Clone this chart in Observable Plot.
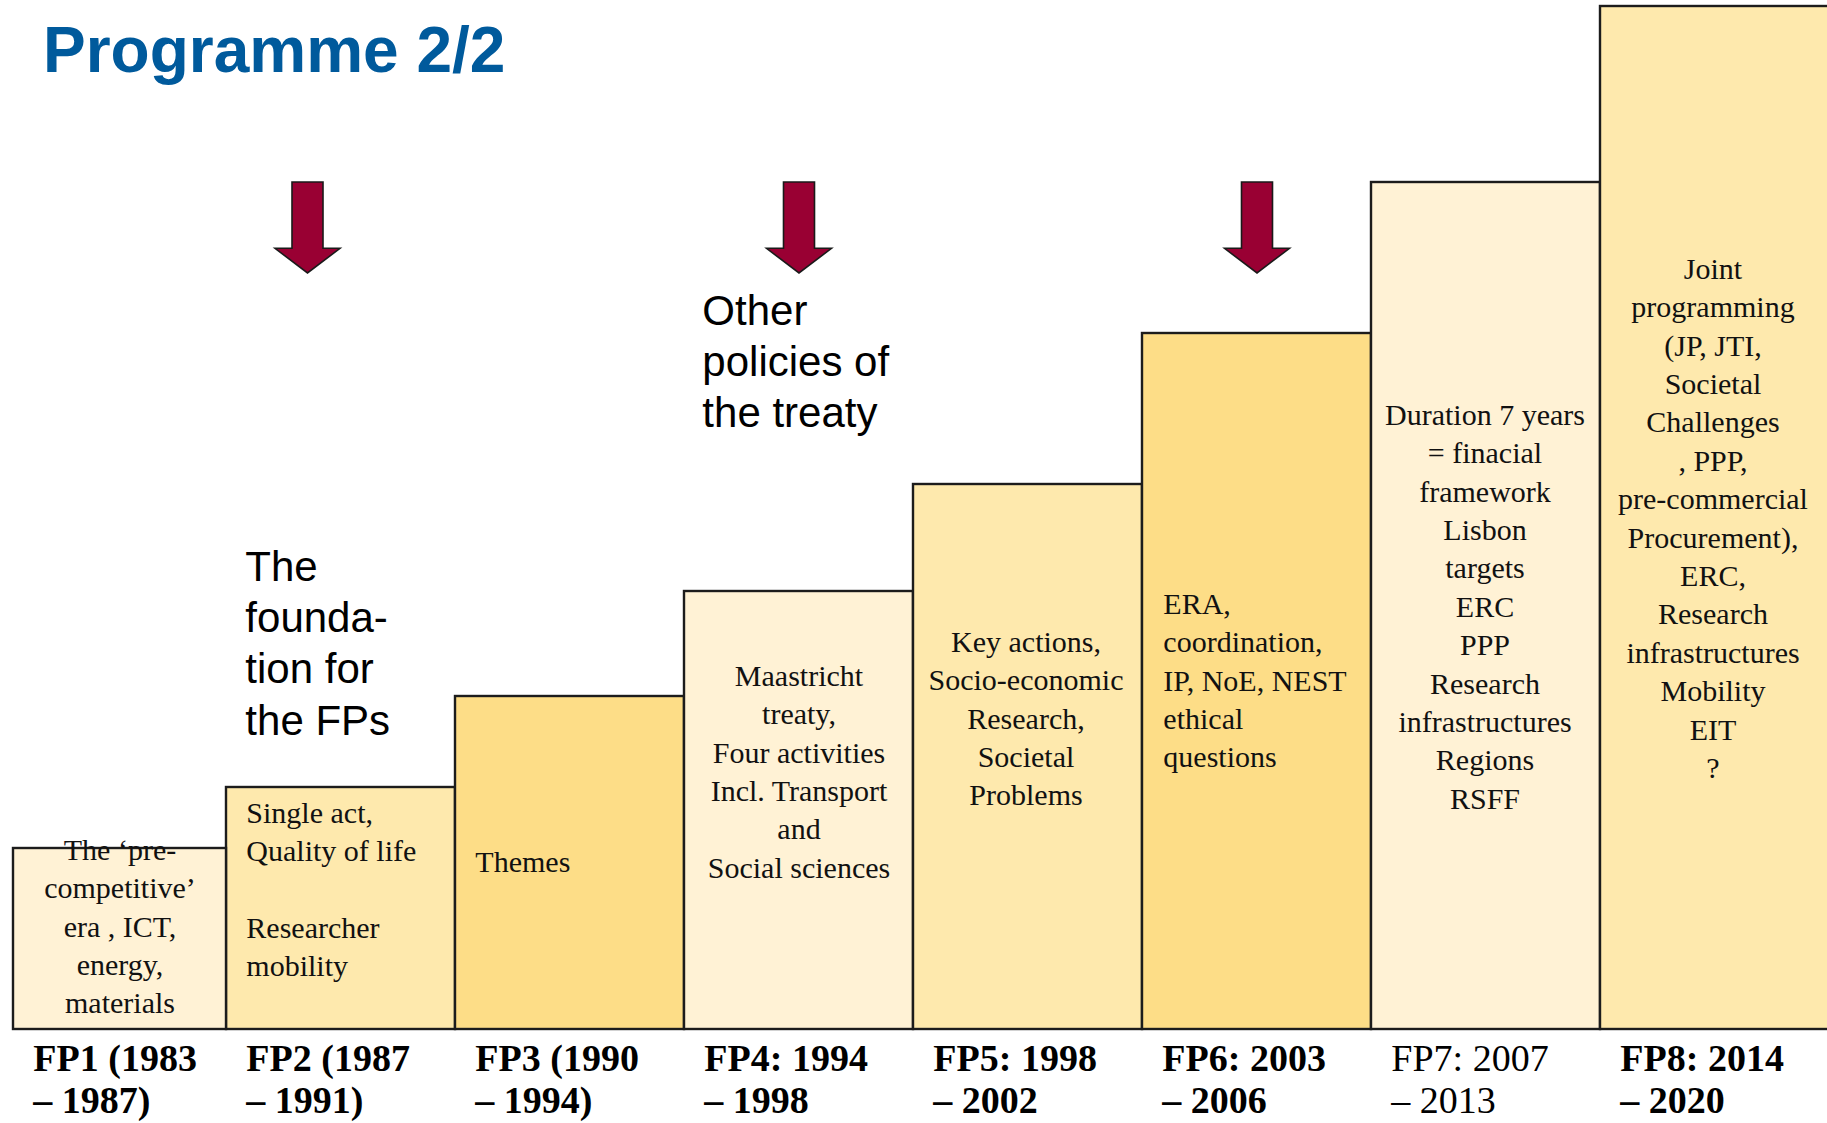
<!DOCTYPE html>
<html>
<head>
<meta charset="utf-8">
<script src="https://cdn.jsdelivr.net/npm/d3@7"></script>
<script src="https://cdn.jsdelivr.net/npm/@observablehq/plot@0.6"></script>
<style>
  html, body { margin: 0; padding: 0; background: #ffffff; }
  #page { position: relative; width: 1827px; height: 1123px; overflow: hidden; }
  #chart { position: absolute; left: 0; top: 0; }
  #title { position: absolute; left: 43px; top: 18px; margin: 0;
           font: bold 64px/64px "Liberation Sans", Arial, sans-serif; color: #005A9C;
           white-space: nowrap; }
</style>
</head>
<body>
<div id="page">
  <div id="chart"></div>
  <h1 id="title">Programme 2/2</h1>
</div>
<script>
// ---------------- data ----------------
const categories = ["FP1", "FP2", "FP3", "FP4", "FP5", "FP6", "FP7", "FP8"];
const stepHeight = [181, 242, 333, 438, 545, 696, 847, 1023];
const shade = ["light", "medium", "dark", "light", "medium", "dark", "light", "medium"];
const periodStart = ["FP1 (1983", "FP2 (1987", "FP3 (1990", "FP4: 1994", "FP5: 1998", "FP6: 2003", "FP7: 2007", "FP8: 2014"];
const periodEnd = ["– 1987)", "– 1991)", "– 1994)", "– 1998", "– 2002", "– 2006", "– 2013", "– 2020"];
const contents = [
  ["The ‘pre-", "competitive’", "era , ICT,", "energy,", "materials"],
  ["Single act,", "Quality of life", "", "Researcher", "mobility"],
  ["Themes"],
  ["Maastricht", "treaty,", "Four activities", "Incl. Transport", "and", "Social sciences"],
  ["Key actions,", "Socio-economic", "Research,", "Societal", "Problems"],
  ["ERA,", "coordination,", "IP, NoE, NEST", "ethical", "questions"],
  ["Duration 7 years", "= finacial", "framework", "Lisbon", "targets", "ERC", "PPP", "Research", "infrastructures", "Regions", "RSFF"],
  ["Joint", "programming", "(JP, JTI,", "Societal", "Challenges", ", PPP,", "pre-commercial", "Procurement),", "ERC,", "Research", "infrastructures", "Mobility", "EIT", "?"]
];
const arrowAt = ["FP2", "FP4", "FP6"];
const noteAt = ["FP2", "FP4"];
const noteText = [["The", "founda-", "tion for", "the FPs"], ["Other", "policies of", "the treaty"]];

// ---------------- layout & style ----------------
const W = 1827, H = 1123;
const xRange = [-4.3, 1830.1];
const step = (xRange[1] - xRange[0]) / categories.length;
const palette = { light: "#FFF2D5", medium: "#FEE9AD", dark: "#FDDD87" };
const serif = "'Liberation Serif', 'Times New Roman', serif";
const sans = "'Liberation Sans', Arial, sans-serif";
const firstInset = 16;

// text placement inside each step (anchor, vertical position on the y scale, horizontal shift)
const textLayout = {
  FP1: { anchor: "middle", y: 197, dx: firstInset / 2 },
  FP2: { anchor: "start",  y: 234, dx: -step / 2 + 20 },
  FP3: { anchor: "start",  y: 185, dx: -step / 2 + 20 },
  FP4: { anchor: "middle", y: 371, dx: 0 },
  FP5: { anchor: "middle", y: 405, dx: -2 },
  FP6: { anchor: "start",  y: 443, dx: -step / 2 + 21 },
  FP7: { anchor: "middle", y: 632, dx: -1 },
  FP8: { anchor: "middle", y: 778, dx: -2 }
};
const labelWeight = { FP7: "normal" };

const rows = categories.map((fp, i) => ({
  fp, i,
  h: stepHeight[i],
  fill: palette[shade[i]],
  label: periodStart[i] + "\n" + periodEnd[i],
  text: contents[i].join("\n")
}));

// block-arrow symbol (pixel geometry around its centre)
const blockArrow = {
  draw(ctx) {
    const top = -45.5, neck = 20.8, tip = 45.5, shaft = 15.5, head = 32.5;
    ctx.moveTo(-shaft, top);
    ctx.lineTo(shaft, top);
    ctx.lineTo(shaft, neck);
    ctx.lineTo(head, neck);
    ctx.lineTo(0, tip);
    ctx.lineTo(-head, neck);
    ctx.lineTo(-shaft, neck);
    ctx.closePath();
  }
};

const marks = [];
// steps
marks.push(Plot.barY(rows.filter(d => d.i > 0), {
  x: "fp", y: "h", fill: "fill", stroke: "#1c1c1c", strokeWidth: 2.4
}));
marks.push(Plot.barY(rows.filter(d => d.i === 0), {
  x: "fp", y: "h", fill: "fill", stroke: "#1c1c1c", strokeWidth: 2.4, insetLeft: firstInset
}));
// contents
for (const r of rows) {
  const L = textLayout[r.fp];
  marks.push(Plot.text([r], {
    x: "fp", y: () => L.y, text: "text", dx: L.dx,
    textAnchor: L.anchor, lineAnchor: "top", lineHeight: 1.28,
    fontFamily: serif, fontSize: 30, fill: "#111111"
  }));
}
// period labels
for (const r of rows) {
  marks.push(Plot.text([r], {
    x: "fp", y: () => 0, text: "label",
    dx: -step / 2 + 20 + (r.i === 0 ? firstInset : 0), dy: 11,
    textAnchor: "start", lineAnchor: "top", lineHeight: 1.12,
    fontFamily: serif, fontSize: 38, fontWeight: labelWeight[r.fp] || "bold", fill: "#000000"
  }));
}
// arrows (centred on their band; the first one sits a little left of FP2's centre)
const arrows = arrowAt.map((fp, k) => ({ fp, k }));
marks.push(Plot.dot(arrows.filter(d => d.k === 0), {
  x: "fp", y: () => 802, r: 10, symbol: blockArrow, dx: -33.5,
  fill: "#990033", stroke: "#1a1a1a", strokeWidth: 1.6
}));
marks.push(Plot.dot(arrows.filter(d => d.k > 0), {
  x: "fp", y: () => 802, r: 10, symbol: blockArrow, dx: 0,
  fill: "#990033", stroke: "#1a1a1a", strokeWidth: 1.6
}));
// notes beside arrows
const notes = noteAt.map((fp, k) => ({ fp, text: noteText[k].join("\n"), k }));
marks.push(Plot.text(notes.filter(d => d.k === 0), {
  x: "fp", y: () => 485, text: "text", dx: -step / 2 + 19,
  textAnchor: "start", lineAnchor: "top", lineHeight: 1.22,
  fontFamily: sans, fontSize: 42, fill: "#000000"
}));
marks.push(Plot.text(notes.filter(d => d.k === 1), {
  x: "fp", y: () => 741, text: "text", dx: -step / 2 + 18,
  textAnchor: "start", lineAnchor: "top", lineHeight: 1.22,
  fontFamily: sans, fontSize: 42, fill: "#000000"
}));

const chart = Plot.plot({
  width: W, height: H,
  marginTop: 6, marginBottom: 94, marginLeft: 0, marginRight: 0,
  x: { type: "band", domain: categories, range: xRange, padding: 0, axis: null },
  y: { domain: [0, 1023], axis: null },
  style: { background: "transparent", overflow: "visible" },
  marks
});
document.getElementById("chart").appendChild(chart);
</script>
</body>
</html>
